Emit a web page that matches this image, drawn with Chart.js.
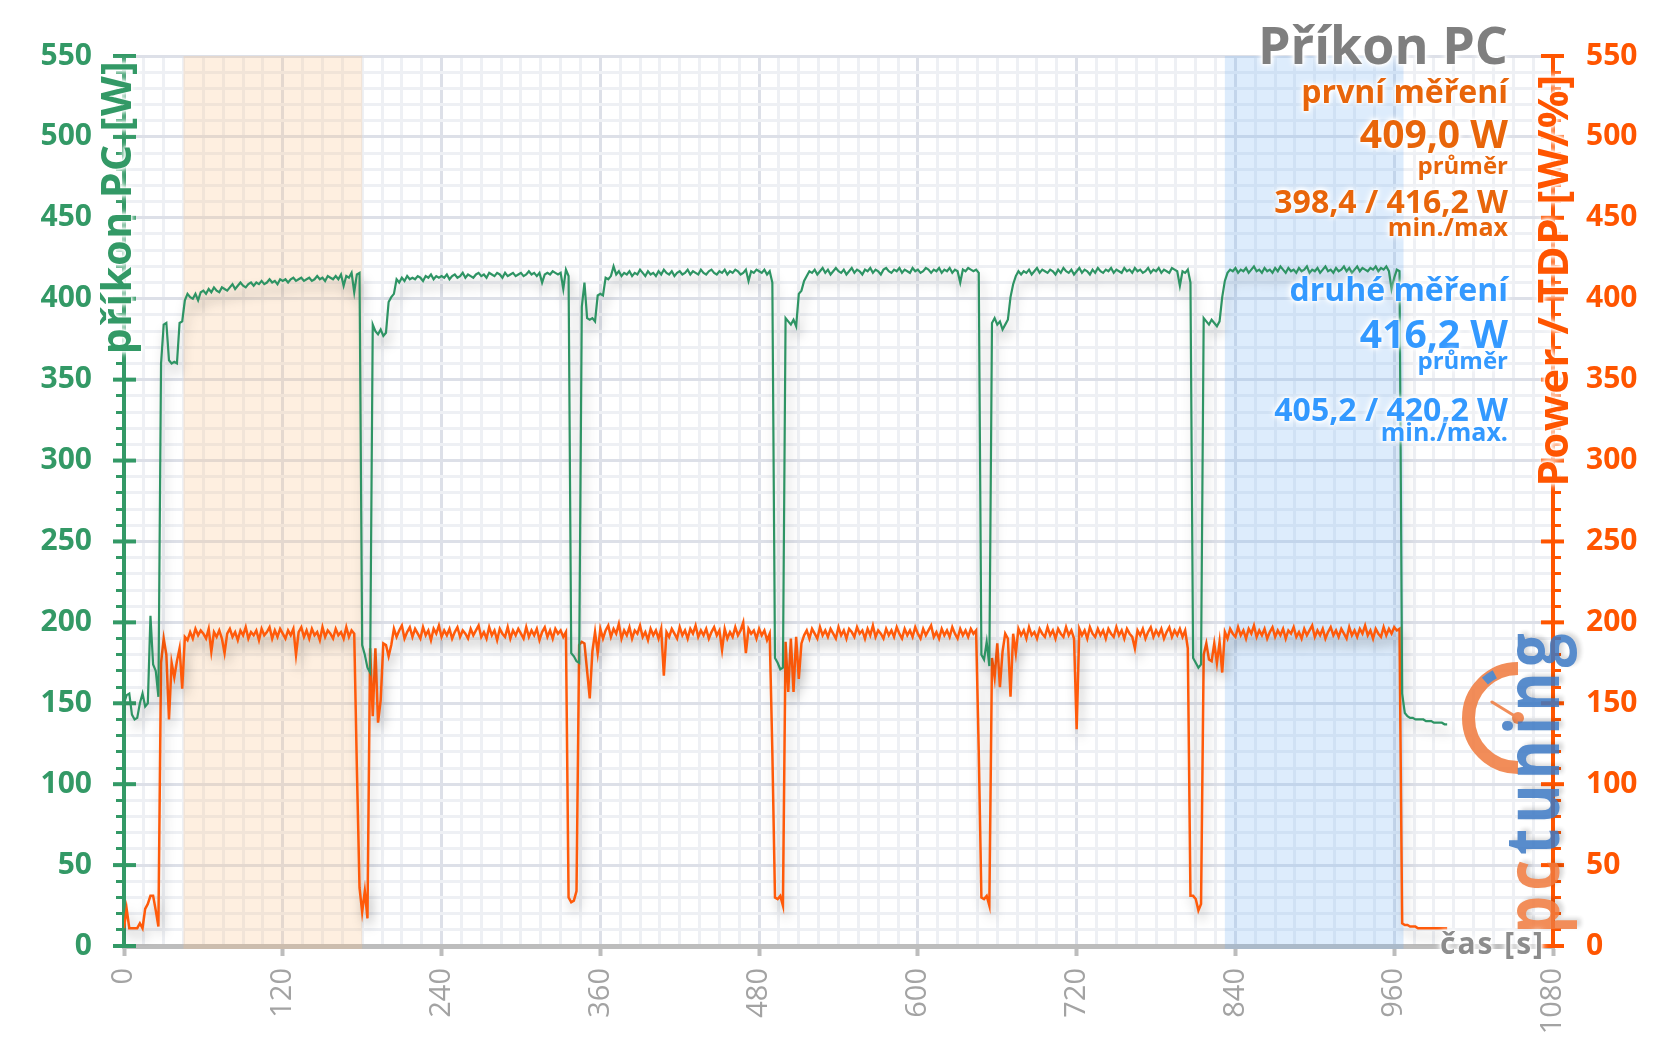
<!DOCTYPE html>
<html lang="cs">
<head>
<meta charset="UTF-8">
<title>Příkon PC</title>
<script src="https://cdn.jsdelivr.net/npm/chart.js"></script>
<style>
  body { margin: 0; background: #fff; }
  #wrap { position: relative; width: 1657px; height: 1044px; overflow: hidden; font-family: "Open Sans", sans-serif; }
  #chart { position: absolute; left: 0; top: 0; }
  .txt { position: absolute; white-space: nowrap; font-weight: 700; line-height: 1;
         text-shadow: 0 0 2px #fff, 0 0 3px #fff, 0 0 4px #fff, 0 0 6px #fff, 0 0 8px #fff; }
  .r { right: 149px; text-align: right; }
  .rot { transform: translate(-50%, -50%) rotate(-90deg); }
  .logo { position: absolute; white-space: nowrap; font-weight: 700; line-height: 1; opacity: 0.85;
          letter-spacing: 5px; text-shadow: 2px 3px 4px rgba(0,0,0,0.18);
          transform: translate(-50%, -50%) rotate(-90deg) scale(1, 1.25); }
</style>
</head>
<body>
<div id="wrap">
  <canvas id="chart" width="1657" height="1044"></canvas>

  <svg width="1657" height="1044" style="position:absolute;left:0;top:0;opacity:0.85">
    <path d="M1518 668.5 A49.5 49.5 0 0 0 1518 767.5" fill="none" stroke="#f07a3c" stroke-width="13"/>
    <path d="M1484.9 681.2 A49.5 49.5 0 0 1 1494.8 674.3" fill="none" stroke="#3b78c4" stroke-width="9"/>
    <line x1="1518" y1="718" x2="1492" y2="702" stroke="#f07a3c" stroke-width="3" stroke-linecap="round"/>
    <circle cx="1518" cy="718" r="6" fill="#f07a3c"/>
  </svg>
  <div class="logo" style="left:1530px;top:781px;font-size:60px"><span style="color:#f07a3c">pc</span><span style="color:#3b78c4">tuning</span></div>

  <div class="txt r" style="top:18px;font-size:52px;color:#7f7f7f">Příkon PC</div>
  <div class="txt r" style="top:75px;font-size:32px;color:#e8650a">první měření</div>
  <div class="txt r" style="top:113px;font-size:39px;color:#e8650a">409,0 W</div>
  <div class="txt r" style="top:153px;font-size:24px;color:#e8650a">průměr</div>
  <div class="txt r" style="top:185px;font-size:32px;color:#e8650a">398,4 / 416,2 W</div>
  <div class="txt r" style="top:214px;font-size:25px;color:#e8650a">min./max</div>
  <div class="txt r" style="top:273px;font-size:32px;color:#3399ff">druhé měření</div>
  <div class="txt r" style="top:313px;font-size:39px;color:#3399ff">416,2 W</div>
  <div class="txt r" style="top:348px;font-size:24px;color:#3399ff">průměr</div>
  <div class="txt r" style="top:393px;font-size:32px;color:#3399ff">405,2 / 420,2 W</div>
  <div class="txt r" style="top:419px;font-size:25px;color:#3399ff">min./max.</div>

  <div class="txt rot" style="left:115px;top:207px;font-size:41px;color:#339966;letter-spacing:1.5px">příkon PC [W]</div>
  <div class="txt rot" style="left:1552px;top:280px;font-size:42px;color:#ff5500;letter-spacing:1.5px">Power / TDP [W/%]</div>
  <div class="txt" style="right:112px;top:928px;font-size:30px;color:#8c8c8c;letter-spacing:2px">čas [s]</div>
</div>

<script>
// sampling step of the log, seconds
const STEP = 2;

// příkon PC [W], one value every STEP seconds from 0 s
const prikonPC = [
  150, 155, 156, 143, 140, 141, 150, 156, 148, 150,
  204, 174, 170, 154, 360, 384, 385, 362, 360, 361,
  360, 385, 386, 399, 403, 401, 400, 403, 399, 404,
  405, 403, 406, 404, 407, 405, 404, 407, 406, 405,
  407, 409, 406, 408, 410, 408, 407, 409, 410, 408,
  410, 409, 411, 409, 410, 412, 410, 411, 409, 412,
  411, 412, 410, 412, 413, 411, 412, 413, 411, 412,
  413, 411, 412, 414, 412, 413, 411, 414, 413, 412,
  414, 412, 415, 408, 414, 413, 416, 404, 415, 416,
  186, 180, 172, 169, 384, 380, 378, 381, 377, 379,
  398, 401, 403, 412, 410, 413, 411, 414, 412, 413,
  412, 414, 413, 411, 414, 413, 415, 412, 414, 413,
  414, 413, 415, 412, 414, 415, 413, 414, 416, 413,
  415, 414, 413, 415, 416, 414, 415, 413, 416, 415,
  414, 416, 415, 413, 416, 414, 415, 416, 414, 415,
  416, 414, 415, 417, 415, 416, 414, 416, 410, 415,
  416, 415, 417, 416, 415, 416, 406, 418, 414, 181,
  179, 176, 175, 395, 410, 388, 387, 388, 386, 402,
  403, 402, 413, 412, 414, 420, 415, 417, 414, 416,
  415, 417, 414, 416, 415, 418, 416, 414, 417, 415,
  416, 414, 417, 415, 418, 416, 415, 417, 414, 416,
  417, 415, 416, 418, 415, 417, 416, 415, 418, 416,
  415, 417, 418, 416, 415, 417, 416, 418, 415, 417,
  416, 418, 417, 415, 416, 418, 411, 417, 416, 418,
  417, 416, 418, 415, 417, 410, 178, 175, 171, 172,
  388, 386, 384, 387, 383, 403, 405, 411, 414, 417,
  416, 418, 415, 417, 419, 416, 418, 415, 417, 419,
  417, 416, 418, 415, 417, 419, 416, 418, 417, 415,
  418, 417, 419, 416, 418, 417, 415, 418, 419, 417,
  416, 418, 417, 419, 416, 418, 417, 416, 419, 417,
  418, 416, 417, 419, 418, 416, 418, 417, 419, 416,
  418, 417, 419, 416, 418, 417, 410, 418, 417, 419,
  418, 417, 418, 416, 180, 177, 188, 173, 385, 388,
  384, 386, 381, 384, 387, 401, 409, 414, 417, 415,
  417, 416, 418, 415, 417, 419, 416, 418, 417, 416,
  418, 417, 415, 418, 416, 419, 417, 416, 418, 415,
  417, 419, 416, 418, 417, 415, 418, 416, 419, 417,
  416, 418, 417, 419, 416, 418, 417, 416, 419, 417,
  418, 416, 419, 417, 418, 416, 417, 419, 416, 418,
  417, 419, 416, 418, 417, 416, 419, 418, 417, 408,
  417, 416, 418, 410, 178, 175, 172, 174, 388, 386,
  384, 387, 385, 383, 386, 401, 411, 416, 418, 417,
  419, 416, 418, 417, 419, 416, 418, 420, 417, 418,
  416, 419, 417, 418, 416, 419, 417, 420, 418, 416,
  419, 417, 418, 416, 419, 417, 418, 420, 416, 418,
  417, 419, 416, 418, 420, 417, 418, 416, 419, 417,
  418, 420, 417, 419, 416, 418, 420, 417, 419, 418,
  417, 419, 418, 420, 417, 419, 418, 420, 417, 406,
  413, 418, 417, 156, 144, 142, 141, 141, 140, 140,
  140, 140, 139, 139, 139, 138, 138, 138, 138, 137,
  137
];

// Power / TDP [W/%], same sampling
const powerTDP = [
  11, 23, 11, 11, 11, 11, 14, 11, 23, 26,
  31, 31, 22, 12, 175, 190, 180, 140, 175, 166,
  176, 184, 159, 191, 189, 194, 190, 196, 192, 195,
  193, 190, 196, 182, 194, 191, 195, 190, 181, 193,
  196, 191, 194, 189, 195, 192, 197, 190, 194, 192,
  195, 189, 196, 192, 194, 197, 190, 195, 191, 196,
  193, 190, 195, 192, 196, 180, 194, 197, 191, 195,
  190, 196, 192, 194, 189, 197, 191, 195, 193, 190,
  196, 192, 194, 190, 197, 191, 195, 193, 110, 36,
  21, 34, 17, 184, 142, 184, 138, 152, 187, 186,
  179, 186, 196, 191, 195, 198, 190, 194, 197, 191,
  196, 193, 190, 197, 192, 195, 189, 196, 193, 198,
  191, 195, 192, 196, 190, 194, 197, 191, 195, 193,
  190, 196, 192, 195, 198, 191, 194, 190, 197, 192,
  195, 189, 196, 193, 191, 197, 190, 195, 192, 196,
  193, 190, 197, 191, 195, 192, 196, 189, 194, 197,
  191, 195, 190, 196, 193, 195, 191, 194, 30, 27,
  28, 34, 186, 188, 187, 170, 153, 182, 194, 181,
  196, 190, 195, 198, 191, 196, 193, 199, 190, 195,
  192, 197, 190, 195, 193, 198, 191, 194, 189, 196,
  192, 195, 190, 196, 167, 194, 191, 196, 193, 190,
  197, 192, 195, 190, 196, 193, 198, 191, 195, 192,
  196, 190, 194, 197, 192, 195, 183, 196, 190, 194,
  191, 197, 192, 195, 200, 181, 196, 193, 195, 190,
  196, 192, 195, 189, 193, 120, 30, 29, 31, 25,
  188, 157, 190, 157, 191, 165, 187, 192, 195, 190,
  196, 193, 190, 197, 192, 195, 191, 196, 193, 190,
  197, 192, 195, 190, 196, 194, 191, 197, 193, 195,
  190, 196, 192, 198, 191, 195, 193, 190, 196, 192,
  195, 191, 197, 193, 190, 196, 192, 195, 191, 197,
  193, 190, 196, 192, 195, 198, 191, 194, 190, 196,
  192, 195, 191, 197, 193, 190, 196, 192, 195, 191,
  196, 193, 195, 120, 30, 29, 31, 25, 178, 166,
  187, 160, 182, 193, 190, 154, 193, 181, 196, 192,
  195, 190, 197, 192, 194, 190, 196, 193, 191, 197,
  192, 195, 190, 196, 193, 191, 197, 192, 195, 190,
  134, 196, 192, 195, 190, 197, 193, 191, 196, 192,
  195, 190, 196, 193, 191, 197, 192, 195, 190, 196,
  193, 191, 184, 195, 192, 196, 190, 194, 197, 191,
  195, 192, 196, 190, 194, 197, 191, 195, 192, 196,
  191, 195, 184, 31, 31, 29, 22, 26, 180, 187,
  177, 176, 187, 175, 188, 169, 194, 190, 196, 193,
  191, 197, 192, 195, 190, 196, 193, 198, 191, 195,
  192, 196, 190, 194, 197, 191, 195, 192, 196, 190,
  195, 193, 197, 191, 194, 190, 196, 192, 195, 198,
  191, 195, 192, 196, 190, 194, 197, 192, 195, 191,
  196, 193, 190, 197, 192, 195, 191, 196, 193, 198,
  192, 195, 190, 196, 193, 191, 197, 192, 196, 193,
  197, 195, 196, 14, 13, 13, 12, 12, 12, 11,
  11, 11, 11, 11, 11, 11, 11, 11, 11, 11,
  11
];

// measured windows (s)
const bandStart = [45, 832];
const bandEnd = [180, 967];
const bandColors = ['rgba(250, 190, 130, 0.25)', 'rgba(120, 180, 245, 0.25)'];

const green = '#339966';
const orange = '#ff5500';

const bandsPlugin = {
    id: 'bands',
    beforeDatasetsDraw(chart) {
        const { ctx, chartArea, scales } = chart;
        ctx.save();
        bandStart.forEach((s, i) => {
            const x1 = scales.x.getPixelForValue(s);
            const x2 = scales.x.getPixelForValue(bandEnd[i]);
            ctx.fillStyle = bandColors[i];
            ctx.fillRect(x1, chartArea.top, x2 - x1, chartArea.bottom - chartArea.top + 3);
        });
        ctx.restore();
    }
};

// long ticks every 50 crossing both axis lines
const majorTicks = {
    id: 'majorTicks',
    beforeDatasetsDraw(chart) {
        const { ctx, chartArea, scales } = chart;
        ctx.save();
        ctx.lineWidth = 4;
        for (let v = 0; v <= 550; v += 50) {
            const y = scales.y.getPixelForValue(v);
            ctx.strokeStyle = green;
            ctx.beginPath();
            ctx.moveTo(chartArea.left - 11, y);
            ctx.lineTo(chartArea.left + 12, y);
            ctx.stroke();
            ctx.strokeStyle = orange;
            ctx.beginPath();
            ctx.moveTo(chartArea.right - 12, y);
            ctx.lineTo(chartArea.right + 11, y);
            ctx.stroke();
        }
        ctx.restore();
    }
};

const lineShadow = {
    id: 'lineShadow',
    beforeDatasetDraw(chart) {
        const ctx = chart.ctx;
        ctx.save();
        ctx.shadowColor = 'rgba(0, 0, 0, 0.28)';
        ctx.shadowBlur = 12;
        ctx.shadowOffsetX = 3;
        ctx.shadowOffsetY = 8;
    },
    afterDatasetDraw(chart) {
        chart.ctx.restore();
    }
};

new Chart(document.getElementById('chart'), {
    type: 'line',
    data: {
        datasets: [
            {
                label: 'příkon PC [W]',
                data: prikonPC.map((v, i) => ({ x: i * STEP, y: v })),
                borderColor: '#2e9464',
                borderWidth: 2.2,
                pointRadius: 0,
                tension: 0,
                yAxisID: 'y'
            },
            {
                label: 'Power / TDP [W/%]',
                data: powerTDP.map((v, i) => ({ x: i * STEP, y: v })),
                borderColor: '#ff5a0a',
                borderWidth: 2.5,
                pointRadius: 0,
                tension: 0,
                yAxisID: 'y2'
            }
        ]
    },
    options: {
        responsive: false,
        devicePixelRatio: 1,
        animation: false,
        layout: { padding: { top: 56, left: 0, right: 0, bottom: 0 } },
        plugins: { legend: { display: false }, tooltip: { enabled: false } },
        scales: {
            x: {
                type: 'linear', min: 0, max: 1080,
                ticks: {
                    stepSize: 15, autoSkip: false, minRotation: 90, maxRotation: 90, padding: 12,
                    color: '#a3a3a3', font: { family: 'Open Sans', size: 29 },
                    callback: v => v % 120 === 0 ? String(v) : ''
                },
                grid: {
                    color: c => c.tick && c.tick.value % 120 === 0 ? '#dde0e8' : '#eef0f4',
                    lineWidth: 3, tickLength: 10, tickWidth: 4,
                    tickColor: c => c.tick && c.tick.value % 120 === 0 ? '#bdbdbd' : 'rgba(0,0,0,0)'
                },
                border: { color: '#bdbdbd', width: 5 },
                afterFit: s => { s.height = 98; }
            },
            y: {
                position: 'left', min: 0, max: 550,
                ticks: {
                    stepSize: 10, autoSkip: false, padding: 24, color: green,
                    font: { family: 'Open Sans', size: 30, weight: 'bold' },
                    callback: v => v % 50 === 0 ? String(v) : ''
                },
                grid: {
                    color: c => c.tick && c.tick.value % 50 === 0 ? '#dde0e8' : '#eef0f4',
                    lineWidth: 3, tickLength: 8, tickWidth: 3, tickColor: green
                },
                border: { color: green, width: 4 },
                afterFit: s => { s.width = 124; }
            },
            y2: {
                position: 'right', min: 0, max: 550,
                ticks: {
                    stepSize: 10, autoSkip: false, padding: 25, color: orange,
                    font: { family: 'Open Sans', size: 30, weight: 'bold' },
                    callback: v => v % 50 === 0 ? String(v) : ''
                },
                grid: { drawOnChartArea: false, tickLength: 8, tickWidth: 3, tickColor: orange },
                border: { color: orange, width: 4 },
                afterFit: s => { s.width = 104; }
            }
        }
    },
    plugins: [bandsPlugin, majorTicks, lineShadow]
});
</script>
</body>
</html>
